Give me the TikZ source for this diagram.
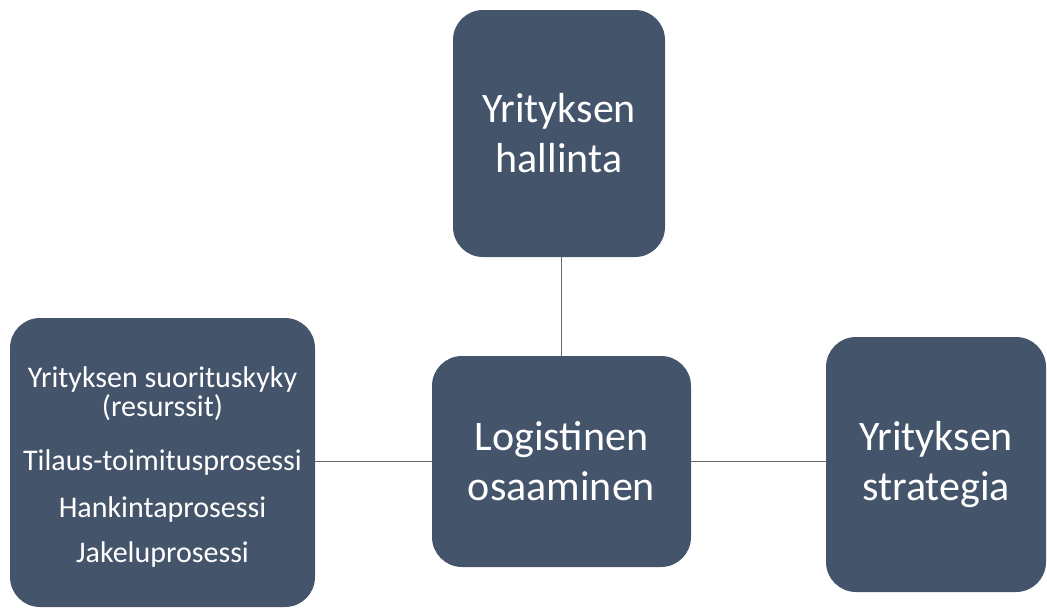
\documentclass[tikz,border=0pt]{standalone}
\usepackage{fontspec}
\usepackage{xcolor}
\setmainfont{Carlito}
\usetikzlibrary{shapes,positioning,calc}
\definecolor{slateblue}{RGB}{68,84,106}
\definecolor{linegray}{RGB}{105,105,105}

\begin{document}
\begin{tikzpicture}[
    x=1pt, y=-1pt,
    every node/.style={text=white, align=center},
    block/.style={rectangle, fill=slateblue, rounded corners=30pt, inner sep=0pt},
    bigtext/.style={font=\fontsize{42}{50}\selectfont},
    smalltext/.style={font=\fontsize{30}{29}\selectfont},
    link/.style={draw=linegray, line width=0.9pt}
]

% Canvas
\useasboundingbox (0,0) rectangle (1047,608);

% Central hub
\node[block, bigtext, minimum width=259pt, minimum height=211pt] (logistiikka) at (561.5,461.5) {Logistinen\\osaaminen};

% Top
\node[block, bigtext, minimum width=212pt, minimum height=247pt] (hallinta) at (559,133.5) {Yrityksen\\hallinta};

% Left
\node[block, minimum width=305pt, minimum height=289pt] (suorituskyky) at (162.5,462.5) {};
\node[smalltext, yshift=-4pt] (prosessit) at (suorituskyky) {Yrityksen suorituskyky\\(resurssit)\\[25pt]Tilaus-toimitusprosessi\\[18pt]Hankintaprosessi\\[16pt]Jakeluprosessi};

% Right
\node[block, bigtext, minimum width=220pt, minimum height=255pt] (strategia) at (936,464.5) {Yrityksen\\strategia};

% Connections
\draw[link] (hallinta.south -| logistiikka.north) -- (logistiikka.north);
\draw[link] (suorituskyky.east |- logistiikka.west) -- (logistiikka.west);
\draw[link] (logistiikka.east) -- (strategia.west |- logistiikka.east);

\end{tikzpicture}
\end{document}
